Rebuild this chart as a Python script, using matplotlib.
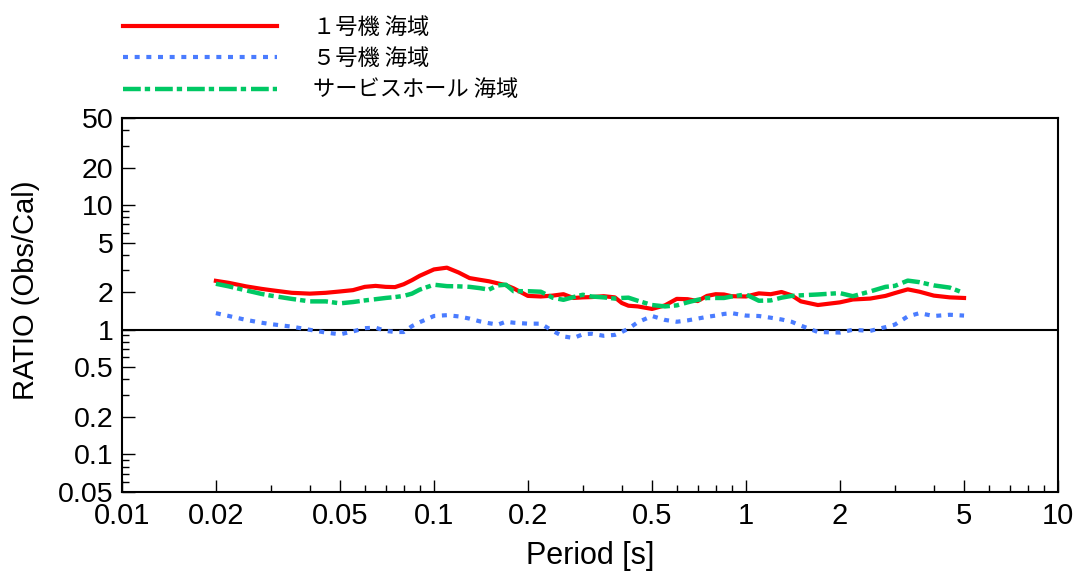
import matplotlib
matplotlib.use('Agg')
import matplotlib.pyplot as plt
import matplotlib.ticker as mticker
import numpy as np

plt.rcParams['font.family'] = ['Liberation Sans', 'DejaVu Sans']

# period [s] and observed/calculated spectral ratios
period = [0.02, 0.022, 0.025, 0.028, 0.03, 0.035, 0.04, 0.045, 0.05, 0.055,
          0.06, 0.065, 0.07, 0.075, 0.08, 0.085, 0.09, 0.1, 0.11, 0.12,
          0.13, 0.14, 0.15, 0.16, 0.17, 0.18, 0.2, 0.22, 0.24, 0.26,
          0.28, 0.3, 0.32, 0.35, 0.38, 0.4, 0.42, 0.45, 0.5, 0.55,
          0.6, 0.65, 0.7, 0.75, 0.8, 0.85, 0.9, 1.0, 1.1, 1.2,
          1.3, 1.4, 1.5, 1.7, 2.0, 2.2, 2.5, 2.8, 3.0, 3.3,
          3.6, 4.0, 4.5, 5.0]

ratio_u1 = [2.47, 2.38, 2.23, 2.13, 2.08, 1.98, 1.95, 1.98, 2.03, 2.08,
            2.21, 2.25, 2.21, 2.20, 2.32, 2.50, 2.71, 3.05, 3.15, 2.88,
            2.60, 2.52, 2.45, 2.36, 2.28, 2.15, 1.87, 1.85, 1.88, 1.93,
            1.80, 1.82, 1.83, 1.86, 1.82, 1.64, 1.56, 1.54, 1.47, 1.57,
            1.77, 1.76, 1.70, 1.87, 1.93, 1.92, 1.86, 1.85, 1.96, 1.93,
            2.01, 1.89, 1.69, 1.58, 1.66, 1.75, 1.78, 1.87, 1.97, 2.11,
            2.02, 1.88, 1.82, 1.80]

ratio_u5 = [1.36, 1.29, 1.20, 1.14, 1.11, 1.06, 1.00, 0.95, 0.92, 0.97,
            1.03, 1.04, 0.98, 0.96, 0.96, 1.07, 1.15, 1.29, 1.31, 1.28,
            1.23, 1.17, 1.13, 1.10, 1.16, 1.14, 1.12, 1.12, 0.98, 0.885,
            0.86, 0.92, 0.93, 0.895, 0.91, 0.96, 1.02, 1.15, 1.29, 1.20,
            1.16, 1.19, 1.23, 1.27, 1.30, 1.34, 1.36, 1.30, 1.29, 1.25,
            1.21, 1.16, 1.08, 0.96, 0.95, 1.00, 0.98, 1.05, 1.10, 1.28,
            1.36, 1.29, 1.32, 1.30]

ratio_sh = [2.34, 2.23, 2.07, 1.94, 1.88, 1.77, 1.69, 1.69, 1.63, 1.67,
            1.72, 1.76, 1.80, 1.83, 1.87, 1.95, 2.10, 2.30, 2.24, 2.23,
            2.21, 2.16, 2.10, 2.27, 2.30, 2.04, 2.04, 2.02, 1.81, 1.74,
            1.83, 1.91, 1.85, 1.82, 1.78, 1.80, 1.81, 1.71, 1.58, 1.54,
            1.57, 1.66, 1.74, 1.80, 1.80, 1.80, 1.85, 1.92, 1.71, 1.72,
            1.81, 1.87, 1.89, 1.92, 1.97, 1.86, 2.03, 2.21, 2.25, 2.48,
            2.41, 2.27, 2.18, 1.97]

labels = ['１号機 海域', '５号機 海域', 'サービスホール 海域']

xticks = [0.01, 0.02, 0.05, 0.1, 0.2, 0.5, 1, 2, 5, 10]
xticklabels = ['0.01', '0.02', '0.05', '0.1', '0.2', '0.5', '1', '2', '5', '10']
yticks = [0.05, 0.1, 0.2, 0.5, 1, 2, 5, 10, 20, 50]
yticklabels = ['0.05', '0.1', '0.2', '0.5', '1', '2', '5', '10', '20', '50']

fig = plt.figure(figsize=(10.88, 5.79), dpi=100)
ax = fig.add_axes([0.1121, 0.1503, 0.8603, 0.6459])

ax.plot(period, ratio_u1, color='#ff0000', lw=3, label=labels[0])
ax.plot(period, ratio_u5, color='#4a7cff', lw=3, ls=(0, (1.2, 1.6)),
        label=labels[1])
ax.plot(period, ratio_sh, color='#00c864', lw=3.2, ls=(0, (4, 0.9, 1.2, 1.1)),
        label=labels[2])
ax.axhline(1, color='black', lw=1.5, zorder=1.5)

ax.set_xscale('log')
ax.set_yscale('log')
ax.set_xlim(0.01, 10)
ax.set_ylim(0.05, 50)

ax.set_xticks(xticks)
ax.set_xticklabels(xticklabels, fontsize=21)
ax.set_yticks(yticks)
ax.set_yticklabels(yticklabels, fontsize=20.5)
ax.xaxis.set_minor_locator(mticker.LogLocator(base=10, subs=np.arange(2, 10)))
ax.yaxis.set_minor_locator(mticker.LogLocator(base=10, subs=np.arange(2, 10)))
ax.xaxis.set_minor_formatter(mticker.NullFormatter())
ax.yaxis.set_minor_formatter(mticker.NullFormatter())

ax.tick_params(which='major', direction='in', length=9, width=1, pad=6)
ax.tick_params(which='minor', direction='in', length=5, width=1)
ax.tick_params(axis='x', which='major', pad=7)
for sp in ax.spines.values():
    sp.set_linewidth(1.5)

ax.set_xlabel('Period [s]', fontsize=22)
ax.xaxis.set_label_coords(0.5, -0.13)
ax.set_ylabel('RATIO (Obs/Cal)', fontsize=21)
ax.yaxis.set_label_coords(-0.088, 0.54)

ax.legend(loc='upper left', bbox_to_anchor=(0.099, 1.0),
          bbox_transform=fig.transFigure, frameon=False,
          prop={'family': ['Noto Sans CJK JP', 'DejaVu Sans'], 'size': 16},
          handlelength=6.9, handletextpad=1.65, labelspacing=0.38,
          borderpad=0.2)

fig.savefig('out.png', dpi=100)
